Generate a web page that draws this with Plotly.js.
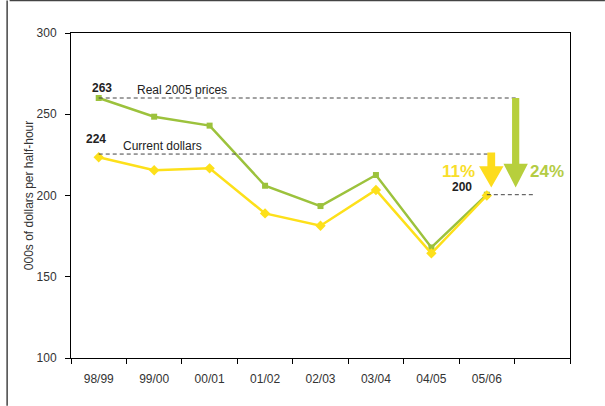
<!DOCTYPE html>
<html><head><meta charset="utf-8">
<script src="https://cdn.plot.ly/plotly-3.0.1.min.js"></script>
<style>html,body{margin:0;padding:0;background:#fff}#c{width:605px;height:406px}</style>
</head><body><div id="c"></div>
<script>
const categories = ["98/99","99/00","00/01","01/02","02/03","03/04","04/05","05/06"];
const realPrices = [260, 248.5, 243, 206, 193.5, 212.6, 168, 200.5];
const currentDollars = [223.5, 215.5, 216.7, 189, 181.4, 203.4, 164.4, 200];
const labelReal = "263", labelCurrent = "224", labelEnd = "200";
const pctCurrent = "11%", pctReal = "24%";

const GREEN = "#9cc23c", YELLOW = "#fde01a", GREEN_ARROW = "#b7cf3c", YELLOW_ARROW = "#fddc1c";
const xs = categories.map((_, i) => i);
const last = categories.length - 1;

function arrowPath(xc, yTop, yTip, shaftW, headW, headH) {
  const yh = yTip + headH;
  return `M ${xc - shaftW/2},${yTop} L ${xc + shaftW/2},${yTop} L ${xc + shaftW/2},${yh} L ${xc + headW/2},${yh} L ${xc},${yTip} L ${xc - headW/2},${yh} L ${xc - shaftW/2},${yh} Z`;
}

const traces = [
  {x: xs, y: realPrices, type: "scatter", mode: "lines+markers",
   line: {color: GREEN, width: 2.5}, marker: {symbol: "square", size: 6, color: GREEN}, hoverinfo: "none"},
  {x: xs, y: currentDollars, type: "scatter", mode: "lines+markers",
   line: {color: YELLOW, width: 2.5}, marker: {symbol: "diamond", size: 8, color: YELLOW}, hoverinfo: "none"}
];

const gx = last + 0.52, yx = last + 0.08;
const tipY = realPrices[last] + 4.5;
const dash = {color: "#444", width: 1, dash: "4px,3px"};
const shapes = [
  {type: "line", xref: "x", yref: "y", x0: 0, x1: gx, y0: realPrices[0], y1: realPrices[0], line: dash},
  {type: "line", xref: "x", yref: "y", x0: 0, x1: yx, y0: currentDollars[0] + 2, y1: currentDollars[0] + 2, line: dash},
  {type: "line", xref: "x", yref: "y", x0: last, x1: last + 0.85, y0: realPrices[last], y1: realPrices[last], line: dash},
  {type: "path", xref: "x", yref: "y", path: arrowPath(gx, realPrices[0], tipY, 0.13, 0.44, 14.5), fillcolor: GREEN_ARROW, line: {width: 0}},
  {type: "path", xref: "x", yref: "y", path: arrowPath(yx, currentDollars[0] + 3, tipY, 0.14, 0.44, 13), fillcolor: YELLOW_ARROW, line: {width: 0}},
  {type: "line", xref: "paper", yref: "paper", x0: -0.123, x1: 1.07, y0: 1.1, y1: 1.1, line: {color: "#444", width: 1.5}},
  {type: "line", xref: "paper", yref: "paper", x0: -0.128, x1: -0.128, y0: 1.1, y1: -0.147, line: {color: "#444", width: 1.5}}
];

const FAM = "Liberation Sans, Arial, sans-serif";
const tf = {family: FAM, size: 12, color: "#222"};
const annotations = [
  {x: 0, y: realPrices[0], text: "<b>" + labelReal + "</b>", showarrow: false, xanchor: "center", yanchor: "bottom", xshift: 3, yshift: 1, font: tf},
  {x: 1.5, y: realPrices[0], text: "Real 2005 prices", showarrow: false, xanchor: "center", yanchor: "bottom", yshift: -1, font: tf},
  {x: -0.05, y: currentDollars[0], text: "<b>" + labelCurrent + "</b>", showarrow: false, xanchor: "center", yanchor: "bottom", yshift: 9, font: tf},
  {x: 1.15, y: currentDollars[0] + 2, text: "Current dollars", showarrow: false, xanchor: "center", yanchor: "bottom", yshift: -1, font: tf},
  {x: last, y: realPrices[last], text: "<b>" + labelEnd + "</b>", showarrow: false, xanchor: "right", yanchor: "bottom", xshift: -13, yshift: -1, font: tf},
  {x: yx, y: tipY + 9.5, text: "<b>" + pctCurrent + "</b>", showarrow: false, xanchor: "right", yanchor: "middle", xshift: -14, font: {family: FAM, size: 17, color: "#f8de2a"}},
  {x: gx, y: tipY + 9.5, text: "<b>" + pctReal + "</b>", showarrow: false, xanchor: "left", yanchor: "middle", xshift: 12, font: {family: FAM, size: 17, color: "#b4cc44"}}
];

const layout = {
  width: 605, height: 406,
  margin: {l: 71, r: 35, t: 33, b: 48},
  paper_bgcolor: "#fff", plot_bgcolor: "#fff",
  showlegend: false,
  font: tf,
  xaxis: {range: [-0.5, 8.5], tickmode: "array", tickvals: xs, ticktext: categories, ticks: "",
          ticklabelstandoff: 10,
          minor: {tick0: -0.5, dtick: 1, ticks: "outside", ticklen: 5, tickcolor: "#000", tickwidth: 1, showgrid: false},
          showgrid: false, zeroline: false, showline: true, linecolor: "#000", linewidth: 1, mirror: true,
          tickfont: {family: FAM, size: 12, color: "#333"}, fixedrange: true},
  yaxis: {range: [100, 300], tickvals: [100, 150, 200, 250, 300], ticks: "outside", ticklen: 5, tickcolor: "#000",
          ticklabelstandoff: 6,
          showgrid: false, zeroline: false, showline: true, linecolor: "#000", linewidth: 1, mirror: true,
          tickfont: {family: FAM, size: 12, color: "#333"},
          title: {text: "000s of dollars per half-hour", font: {family: FAM, size: 12, color: "#333"}, standoff: 0},
          fixedrange: true},
  shapes: shapes, annotations: annotations
};

Plotly.newPlot("c", traces, layout, {displayModeBar: false, staticPlot: true});
</script></body></html>
